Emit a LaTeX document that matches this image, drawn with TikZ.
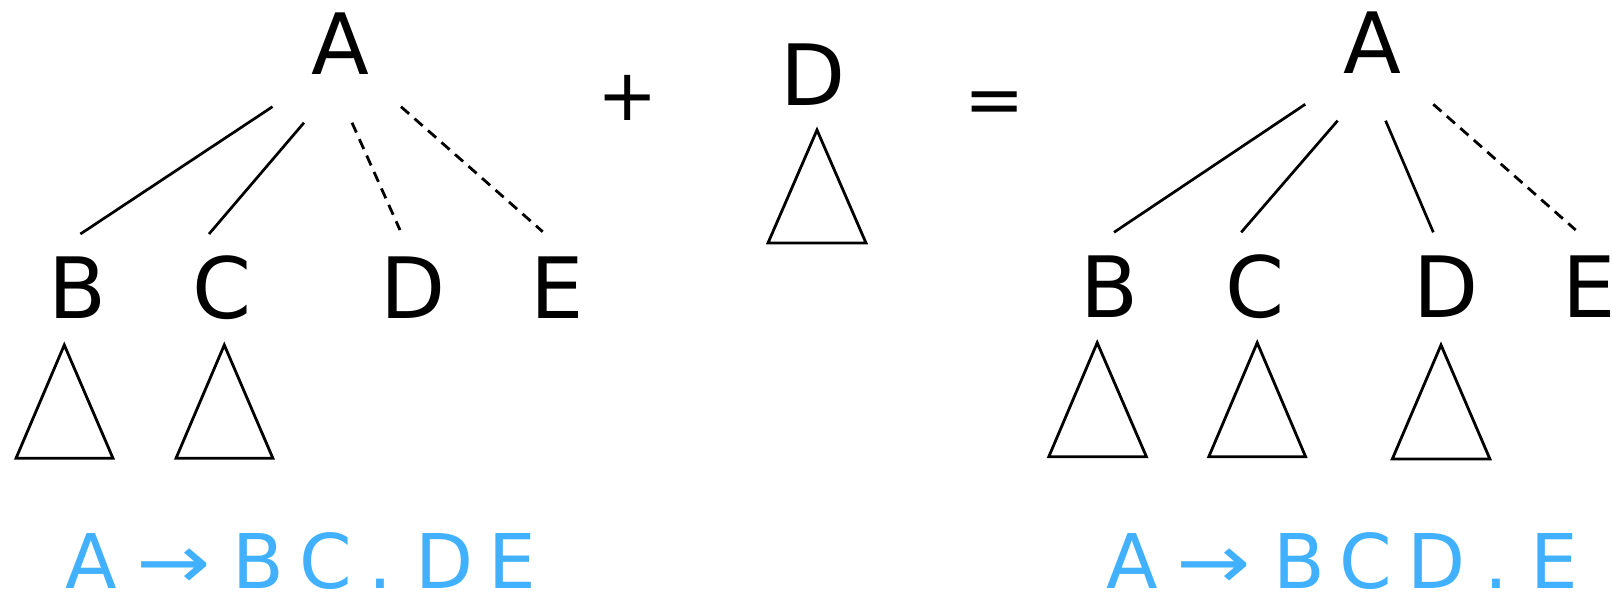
\documentclass[tikz,border=0pt]{standalone}
\usepackage{fontspec}
\usepackage{graphicx}
\setmainfont{DejaVu Sans}
\definecolor{labelblue}{RGB}{64,176,255}
\newcommand{\bigletters}{\fontsize{42.3pt}{50pt}\selectfont}
\newcommand{\opletters}{\fontsize{36pt}{42pt}\selectfont}
\newcommand{\blueletters}{\fontsize{37.7pt}{44pt}\selectfont}
\newcommand{\putch}[2]{\rlap{\hspace*{#1}\makebox[0pt][c]{#2}}}
\newcommand{\longarr}{\scalebox{1.18}[1]{→}}
\begin{document}
\begin{tikzpicture}[x=0.5pt,y=-0.5pt,
  letter/.style={inner sep=0pt,outer sep=0pt,anchor=base,font=\bigletters},
  opsym/.style={inner sep=0pt,outer sep=0pt,anchor=base,font=\opletters},
  rule/.style={inner sep=0pt,outer sep=0pt,anchor=base west,font=\blueletters,text=labelblue},
  edge/.style={line width=1.35pt},
  pending/.style={line width=1.4pt,dash pattern=on 5.4pt off 3.6pt},
  subtree/.style={line width=1.4pt,line join=miter}]
\useasboundingbox (0,0) rectangle (1612,594);

% ---------- left tree ----------
\node[letter] (lA) at (340.5,74) {A};
\node[letter] (lB) at (77.5,318) {B};
\node[letter] (lC) at (222,318) {C};
\node[letter] (lD) at (413,318) {D};
\node[letter] (lE) at (557,318) {E};
\coordinate (lAB) at (272.5,106.7); \coordinate (lBA) at (80.4,234);
\coordinate (lAC) at (304,122.7);   \coordinate (lCA) at (209,234);
\coordinate (lAD) at (352,122.7);   \coordinate (lDA) at (400,230);
\coordinate (lAE) at (401,106.7);   \coordinate (lEA) at (542.7,231.7);
\draw[edge] (lAB) -- (lBA);
\draw[edge] (lAC) -- (lCA);
\draw[pending] (lAD) -- (lDA);
\draw[pending] (lAE) -- (lEA);
\draw[subtree] (64.3,345) -- (113,458.3) -- (16,458.3) -- cycle;
\draw[subtree] (224.3,345) -- (272.9,458.3) -- (176,458.3) -- cycle;

% ---------- middle ----------
\node[opsym] (plus) at (627.5,120) {+};
\node[letter] (mD) at (813.5,105) {D};
\draw[subtree] (817,130) -- (866,243) -- (768,243) -- cycle;
\node[opsym] (eq) at (995,124) {=};

% ---------- right tree ----------
\node[letter] (rA) at (1372,73) {A};
\node[letter] (rB) at (1109.5,317) {B};
\node[letter] (rC) at (1255,317) {C};
\node[letter] (rD) at (1446.5,317) {D};
\node[letter] (rE) at (1589.5,317) {E};
\coordinate (rAB) at (1305.2,104.3); \coordinate (rBA) at (1114,232.3);
\coordinate (rAC) at (1337.6,120.7); \coordinate (rCA) at (1241.2,232.3);
\coordinate (rAD) at (1385.6,120.7); \coordinate (rDA) at (1433.3,232.3);
\coordinate (rAE) at (1433.3,104.3); \coordinate (rEA) at (1575.7,230);
\draw[edge] (rAB) -- (rBA);
\draw[edge] (rAC) -- (rCA);
\draw[edge] (rAD) -- (rDA);
\draw[pending] (rAE) -- (rEA);
\draw[subtree] (1097.2,342.7) -- (1146.4,456.7) -- (1048.8,456.7) -- cycle;
\draw[subtree] (1257.2,342.7) -- (1305.6,456.7) -- (1208.8,456.7) -- cycle;
\draw[subtree] (1441,345) -- (1489.9,459) -- (1392.3,459) -- cycle;

% ---------- dotted rules ----------
\node[rule] (ruleL) at (90,588.3) {\putch{0pt}{A}\putch{41.25pt}{\longarr}\putch{83.75pt}{B}\putch{117.25pt}{C}\putch{145pt}{.}\putch{176.75pt}{D}\putch{210.75pt}{E}};
\node[rule] (ruleR) at (1131,588.3) {\putch{0pt}{A}\putch{41pt}{\longarr}\putch{83.5pt}{B}\putch{117pt}{C}\putch{152.5pt}{D}\putch{182.5pt}{.}\putch{211pt}{E}};
\end{tikzpicture}
\end{document}
